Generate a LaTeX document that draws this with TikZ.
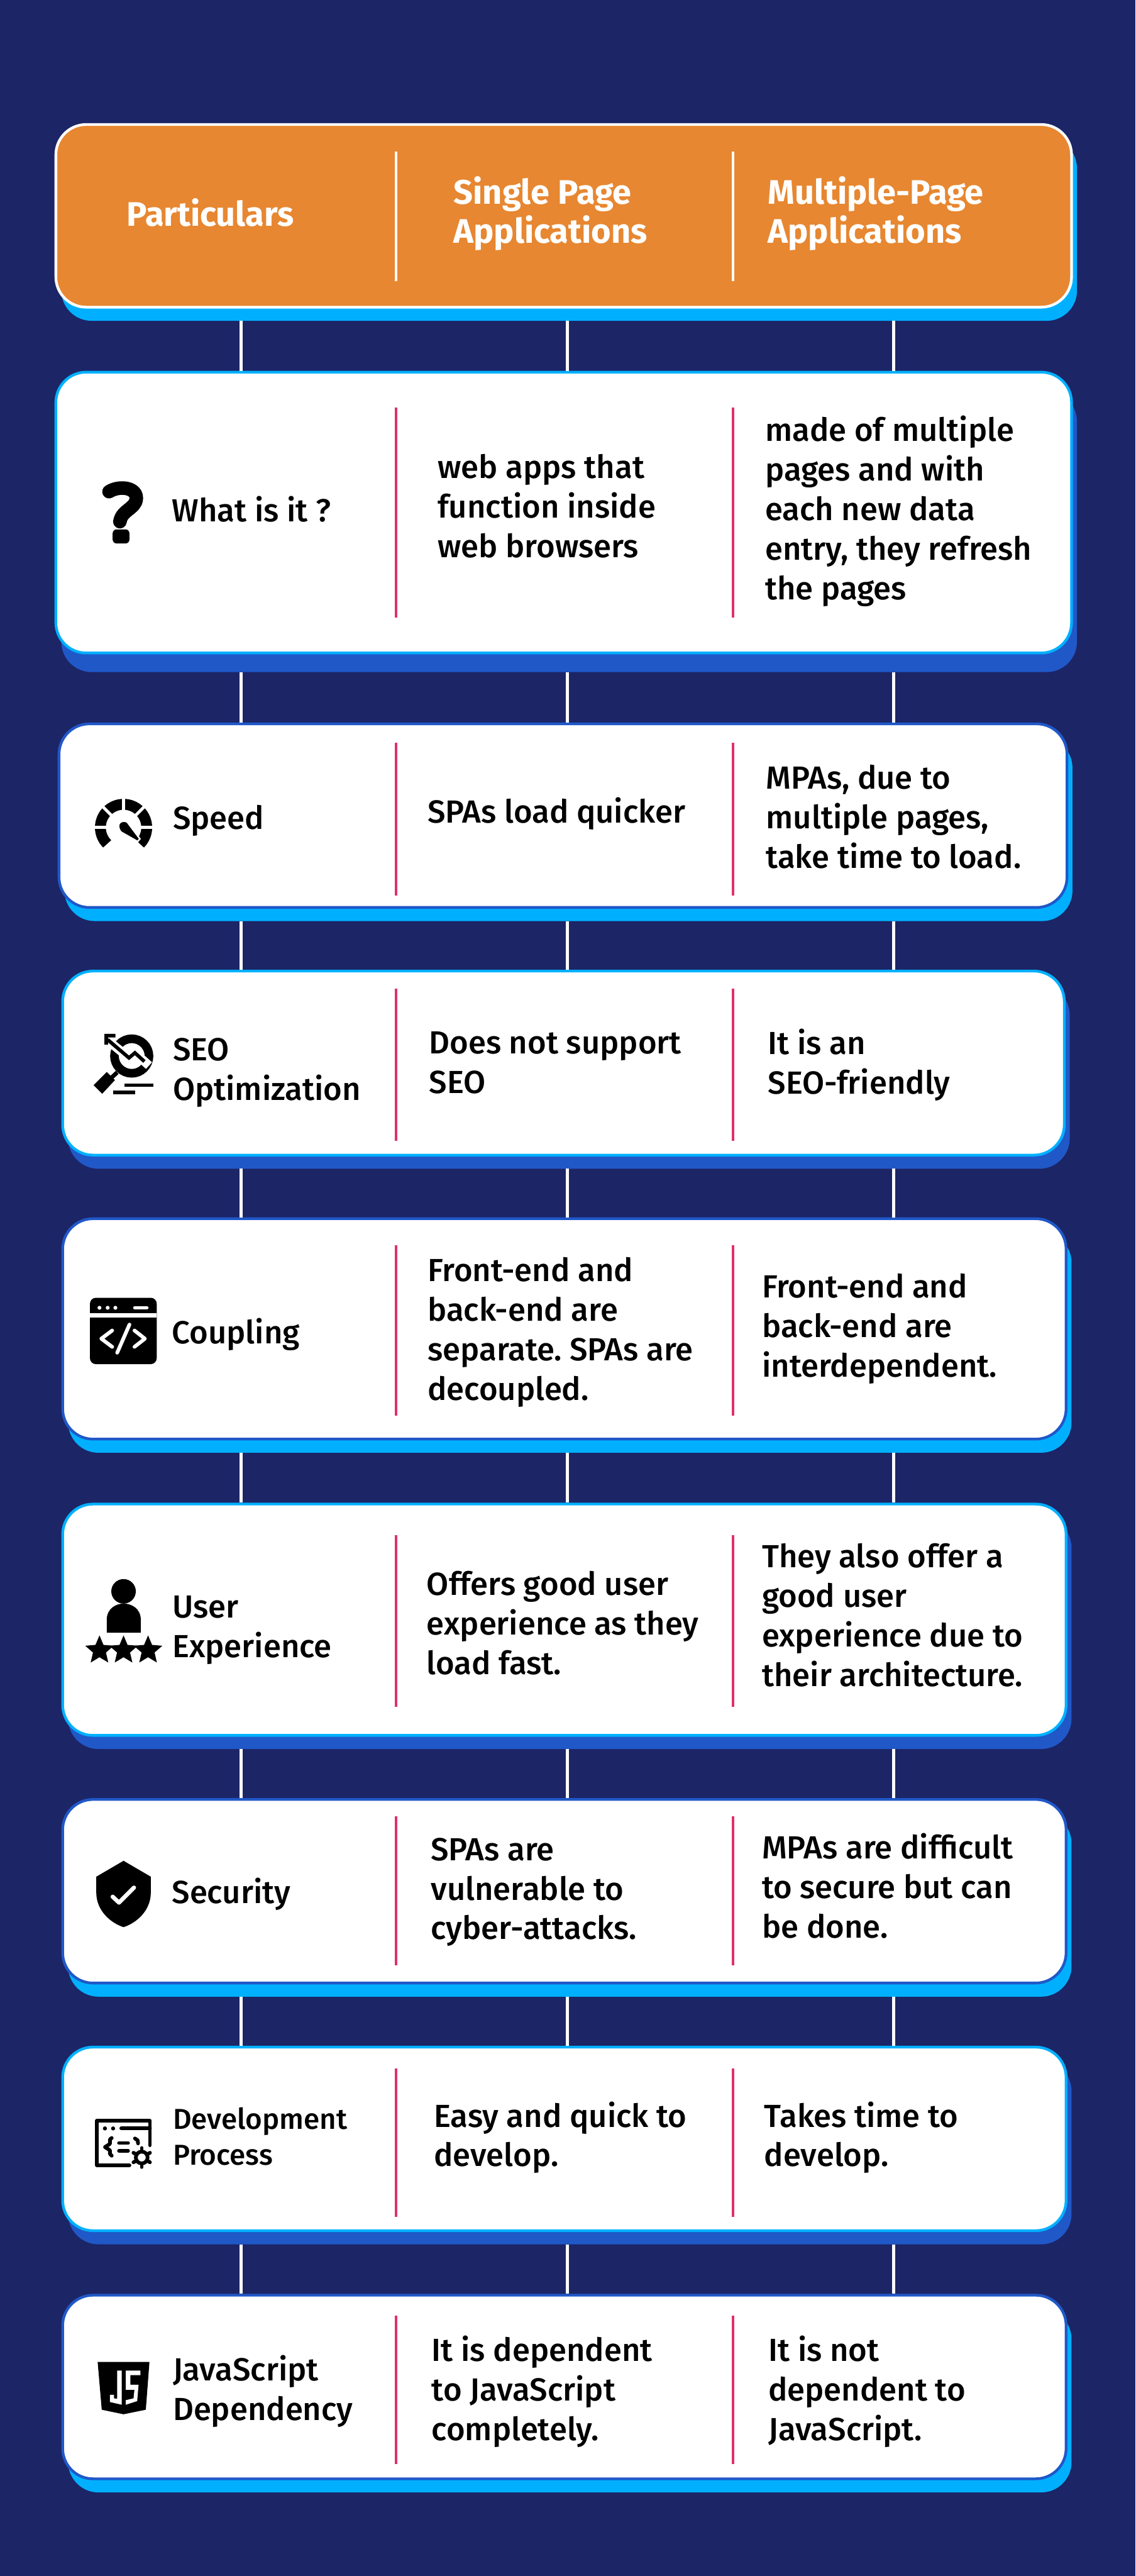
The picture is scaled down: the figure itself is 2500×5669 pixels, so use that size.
\documentclass[tikz,border=0pt]{standalone}
\usepackage{fontspec}
\setmainfont{Fira Sans}[UprightFont=* Medium, BoldFont=* Bold]
\usetikzlibrary{shapes.geometric}
\frenchspacing

\definecolor{navy}{HTML}{1C2566}
\definecolor{sky}{HTML}{00B0FF}
\definecolor{royal}{HTML}{2058C8}
\definecolor{amber}{HTML}{E78731}
\definecolor{rose}{HTML}{E0306E}

\tikzset{
  cardbox/.style={rectangle, rounded corners=19pt, inner sep=0pt, outer sep=0pt, line width=1.7pt},
  linkline/.style={white, line width=1.9pt, shorten >=0.85pt},
  headtext/.style={anchor=west, align=left, inner sep=0pt, text=white, font=\bfseries\fontsize{21.3}{24.75}\selectfont},
  celltext/.style={anchor=west, align=left, inner sep=0pt, text=black, font=\fontsize{20}{24.75}\selectfont},
  smalltext/.style={celltext, font=\fontsize{18}{22.5}\selectfont},
  iconline/.style={black, line width=2.3pt, line cap=round, line join=round},
  starmark/.style={star, star points=5, star point ratio=2.2, fill=black, inner sep=0pt, minimum size=0.66cm}
}

\begin{document}
\begin{tikzpicture}[x=0.01cm, y=-0.01cm]
  \fill[navy] (0,0) rectangle (2500,5669);
  \useasboundingbox (0,0) rectangle (2500,5669);

  \coordinate (colA) at (531,0);
  \coordinate (colB) at (1249,0);
  \coordinate (colC) at (1967,0);

  \foreach \cname/\xa/\ya/\xb/\yb/\ds/\cstroke/\cshade/\cfill in {
    head/120/271/2362/679/30/white/sky/amber,
    what/120/816/2362/1440/42/sky/royal/white,
    speed/127/1590/2352/2000/30/royal/sky/white,
    seo/135/2134/2346/2545/30/sky/royal/white,
    couple/135/2679/2350/3170/30/royal/sky/white,
    user/135/3307/2350/3822/30/sky/royal/white,
    secure/135/3957/2350/4367/30/royal/sky/white,
    dev/135/4502/2350/4912/30/sky/royal/white,
    jsdep/135/5048/2350/5458/30/royal/sky/white} {
    \pgfmathsetmacro{\ww}{(\xb-\xa-6)*0.01}
    \pgfmathsetmacro{\hh}{(\yb-\ya-6)*0.01}
    \node[cardbox, fill=\cshade, minimum width=\ww cm, minimum height=\hh cm]
      (sh\cname) at ({(\xa+\xb)/2+12},{(\ya+\yb)/2+\ds}) {};
    \node[cardbox, draw=\cstroke, fill=\cfill, minimum width=\ww cm, minimum height=\hh cm]
      (box\cname) at ({(\xa+\xb)/2},{(\ya+\yb)/2}) {};
  }

  \foreach \aa/\bb in {head/what, what/speed, speed/seo, seo/couple, couple/user, user/secure, secure/dev, dev/jsdep} {
    \foreach \colx in {colA, colB, colC} {
      \draw[linkline] (sh\aa.south -| \colx) -- (box\bb.north -| \colx);
    }
  }

  \foreach \ya/\yb/\dcol in {333/619/white, 897/1359/rose, 1635/1971/rose, 2175/2510/rose, 2740/3116/rose, 3379/3756/rose, 3997/4325/rose, 4552/4879/rose, 5096/5423/rose} {
    \draw[\dcol, line width=1.8pt] (872,\ya) -- (872,\yb);
    \draw[\dcol, line width=1.8pt] (1614,\ya) -- (1614,\yb);
  }

  \node[headtext] (hpart) at (278,468) {Particulars};
  \node[headtext] (hsingle) at (998,470) {Single Page\\Applications};
  \node[headtext] (hmulti) at (1690,470) {Multiple-Page\\Applications};

  \node[celltext] (whatname) at (378,1121) {What is it ?};
  \node[celltext] (whatspa) at (963,1114) {web apps that\\function inside\\web browsers};
  \node[celltext] (whatmpa) at (1684,1125) {made of multiple\\pages and with\\each new data\\entry, they refresh\\the pages};

  \node[celltext] (speedname) at (380,1806) {Speed};
  \node[celltext] (speedspa) at (941,1790) {SPAs load quicker};
  \node[celltext] (speedmpa) at (1686,1797) {MPAs, due to\\multiple pages,\\take time to load.};

  \node[celltext] (seoname) at (380,2361) {SEO\\Optimization};
  \node[celltext] (seospa) at (944,2339) {Does not support\\SEO};
  \node[celltext] (seompa) at (1690,2344) {It is an\\SEO-friendly};

  \node[celltext] (couplename) at (378,2936) {Coupling};
  \node[celltext] (couplespa) at (941,2932) {Front-end and\\back-end are\\separate. SPAs are\\decoupled.};
  \node[celltext] (couplempa) at (1677,2924) {Front-end and\\back-end are\\interdependent.};

  \node[celltext] (username) at (379,3587) {User\\Experience};
  \node[celltext] (userspa) at (939,3572) {Offers good user\\experience as they\\load fast.};
  \node[celltext] (usermpa) at (1677,3554) {They also offer a\\good user\\experience due to\\their architecture.};

  \node[celltext] (securename) at (378,4168) {Security};
  \node[celltext] (securespa) at (948,4164) {SPAs are\\vulnerable to\\cyber-attacks.};
  \node[celltext] (securempa) at (1677,4150) {MPAs are difficult\\to secure but can\\be done.};

  \node[smalltext] (devname) at (380,4702) {Development\\Process};
  \node[celltext] (devspa) at (955,4704) {Easy and quick to\\develop.};
  \node[celltext] (devmpa) at (1682,4704) {Takes time to\\develop.};

  \node[celltext] (jsname) at (380,5262) {JavaScript\\Dependency};
  \node[celltext] (jsspa) at (950,5263) {It is dependent\\to JavaScript\\completely.};
  \node[celltext] (jsmpa) at (1691,5263) {It is not\\dependent to\\JavaScript.};

  % question mark
  \draw[iconline, line width=8.5pt] (240,1082) .. controls (262,1068) and (302,1072) .. (300,1098) .. controls (298,1120) and (268,1122) .. (264,1148);
  \fill[black, rounded corners=2.5pt] (248,1165) rectangle (285,1196);

  % gauge
  \draw[black, line width=6.8pt] ([shift={(272,1821)}]45:51) arc (45:-225:51);
  \foreach \aa in {0,-45,-90,-135,-180} {
    \draw[white, line width=1.9pt] ([shift={(272,1821)}]\aa:36) -- ([shift={(272,1821)}]\aa:68);
  }
  \filldraw[black, draw=white, line width=1pt] (261,1820) .. controls (259,1807) and (275,1804) .. (281,1810) -- (308,1846) -- (303,1852) -- (266,1831) .. controls (263,1828) and (262,1824) .. cycle;

  % magnifier
  \draw[black, line width=5.4pt] (290,2324) circle [radius=38];
  \draw[white, line width=5.6pt] (245,2296) -- (284,2328) -- (297,2317) -- (328,2345);
  \draw[black, line width=2.2pt] (237,2288) -- (284,2328) -- (297,2317) -- (318,2336);
  \fill[black] (230,2275) -- (254,2275) -- (254,2283) -- (238,2283) -- (238,2299) -- (230,2299) -- cycle;
  \draw[black, line width=2.6pt] (258,2360) -- (245,2372);
  \fill[black] (235,2359) -- (253,2377) -- (225,2407) -- (206,2388) -- cycle;
  \fill[black] (274,2384) rectangle (338,2392);
  \fill[black] (249,2400) rectangle (298,2408);

  % code window
  \fill[black, rounded corners=3.7pt] (198,2856) rectangle (345,3002);
  \fill[white] (198,2890) rectangle (345,2899);
  \foreach \xx in {219,237,254} {
    \fill[white] (\xx,2878) circle [radius=4.3];
  }
  \draw[iconline, white] (297,2878) -- (323,2878);
  \draw[iconline, white] (247,2928) -- (223,2946) -- (247,2964);
  \draw[iconline, white] (285,2915) -- (258,2977);
  \draw[iconline, white] (296,2928) -- (319,2946) -- (296,2964);

  % user with stars
  \fill[black] (272,3502) circle [radius=27];
  \fill[black] (235,3593) -- (235,3565) .. controls (235,3540) and (255,3529) .. (272,3529) .. controls (290,3529) and (310,3540) .. (310,3565) -- (310,3593) -- cycle;
  \node[starmark] (starA) at (219,3632) {};
  \node[starmark] (starB) at (272,3632) {};
  \node[starmark] (starC) at (326,3632) {};

  % shield
  \fill[black] (272,4095) -- (332,4130) -- (332,4165) .. controls (332,4205) and (300,4232) .. (272,4241) .. controls (244,4232) and (212,4205) .. (212,4165) -- (212,4130) -- cycle;
  \draw[iconline, white, line width=2.6pt] (248,4174) -- (262,4187) -- (295,4154);

  % settings window
  \draw[iconline] (285,4765) -- (213,4765) -- (213,4667) -- (330,4667) -- (330,4721);
  \draw[iconline] (267,4684) -- (330,4684);
  \foreach \xx in {231,249} {
    \fill[black] (\xx,4684) circle [radius=4.5];
  }
  \draw[iconline] (246,4705) -- (242,4708) -- (242,4718) -- (231,4725) -- (242,4732) -- (242,4740) -- (246,4744);
  \draw[iconline] (262,4716) -- (282,4716);
  \draw[iconline] (262,4733) -- (282,4733);
  \draw[iconline] (297,4706) -- (303,4710) -- (304,4717);
  \draw[iconline] (312,4748) circle [radius=13];
  \foreach \aa in {30,90,150,210,270,330} {
    \draw[iconline] ([shift={(312,4748)}]\aa:13) -- ([shift={(312,4748)}]\aa:21);
  }

  % js badge
  \fill[black] (215,5198) -- (329,5198) -- (321,5303) -- (272,5313) -- (224,5303) -- cycle;
  \fill[white] (258,5217) -- (268,5217) -- (268,5292) -- (242,5286) -- (242,5270) -- (251,5270) -- (251,5278) -- (258,5279) -- cycle;
  \fill[white] (277,5217) -- (309,5217) -- (309,5227) -- (287,5227) -- (287,5248) -- (305,5248) -- (302,5284) -- (277,5292) -- (277,5282) -- (294,5278) -- (296,5259) -- (277,5259) -- cycle;
\end{tikzpicture}
\end{document}
